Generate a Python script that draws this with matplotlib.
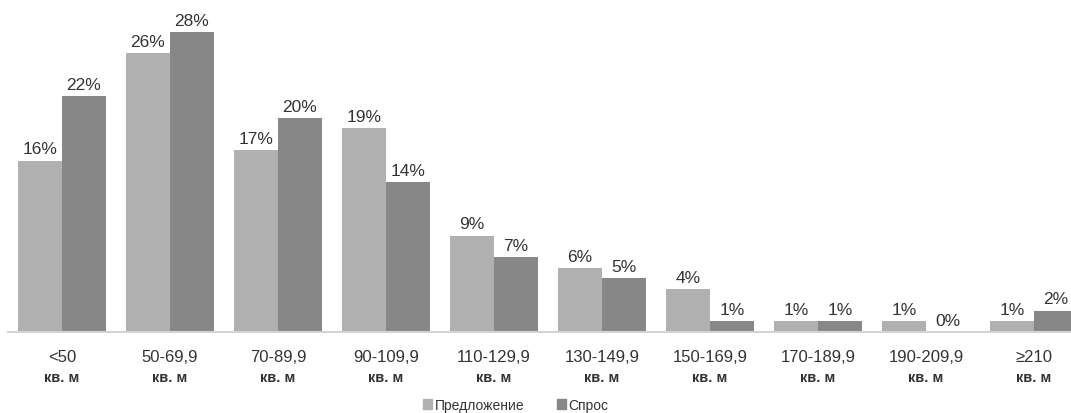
import matplotlib
matplotlib.use("Agg")
import matplotlib.pyplot as plt
from matplotlib.patches import Patch
import numpy as np

plt.rcParams['font.family'] = ['Liberation Sans', 'DejaVu Sans']

categories = ["<50", "50-69,9", "70-89,9", "90-109,9", "110-129,9",
              "130-149,9", "150-169,9", "170-189,9", "190-209,9", "≥210"]
unit_label = "кв. м"
supply = [16, 26, 17, 19, 9, 6, 4, 1, 1, 1]
demand = [22, 28, 20, 14, 7, 5, 1, 1, 0, 2]
series_names = ["Предложение", "Спрос"]

light = "#b0b0b0"
dark = "#878787"
text_color = "#333333"

W, H = 1071, 414
fig = plt.figure(figsize=(W / 100, H / 100), dpi=100)
base_px = 333
ax = fig.add_axes([8 / W, (H - base_px) / H, 1 - 8 / W, base_px / H])

x = np.arange(len(categories))
bw = 44 / 108
b1 = ax.bar(x - bw / 2, supply, bw, color=light, linewidth=0)
b2 = ax.bar(x + bw / 2, demand, bw, color=dark, linewidth=0)

for bars, vals in ((b1, supply), (b2, demand)):
    for rect, v in zip(bars, vals):
        ax.annotate(f"{v}%", xy=(rect.get_x() + rect.get_width() / 2, v),
                    xytext=(0, 3), textcoords="offset points",
                    ha="center", va="bottom", fontsize=12.5, color=text_color)

for i, c in enumerate(categories):
    ax.annotate(c, xy=(i, 0), xytext=(0, -18), textcoords="offset points",
                ha="center", va="center", fontsize=12, color=text_color,
                annotation_clip=False)
    ax.annotate(unit_label, xy=(i, 0), xytext=(0, -32.5), textcoords="offset points",
                ha="center", va="center", fontsize=10.5, fontweight="bold",
                color=text_color, annotation_clip=False)

ax.set_xlim(-0.5, (W - 62) / 108)
ax.set_ylim(0, (base_px - 1) / 10.68)
for s in ("top", "right", "left"):
    ax.spines[s].set_visible(False)
ax.spines["bottom"].set_color("#d4d4d4")
ax.spines["bottom"].set_linewidth(1.5)
ax.set_xticks([])
ax.set_yticks([])
ax.patch.set_visible(False)

handles = [Patch(color=light), Patch(color=dark)]
fig.legend(handles, series_names, loc="center", bbox_to_anchor=(516 / W, 1 - 406 / H),
           ncol=2, frameon=False, fontsize=10, handlelength=0.65, handleheight=0.65,
           handletextpad=0.2, columnspacing=2.3, labelcolor=text_color)

fig.savefig("out.png", dpi=100)
